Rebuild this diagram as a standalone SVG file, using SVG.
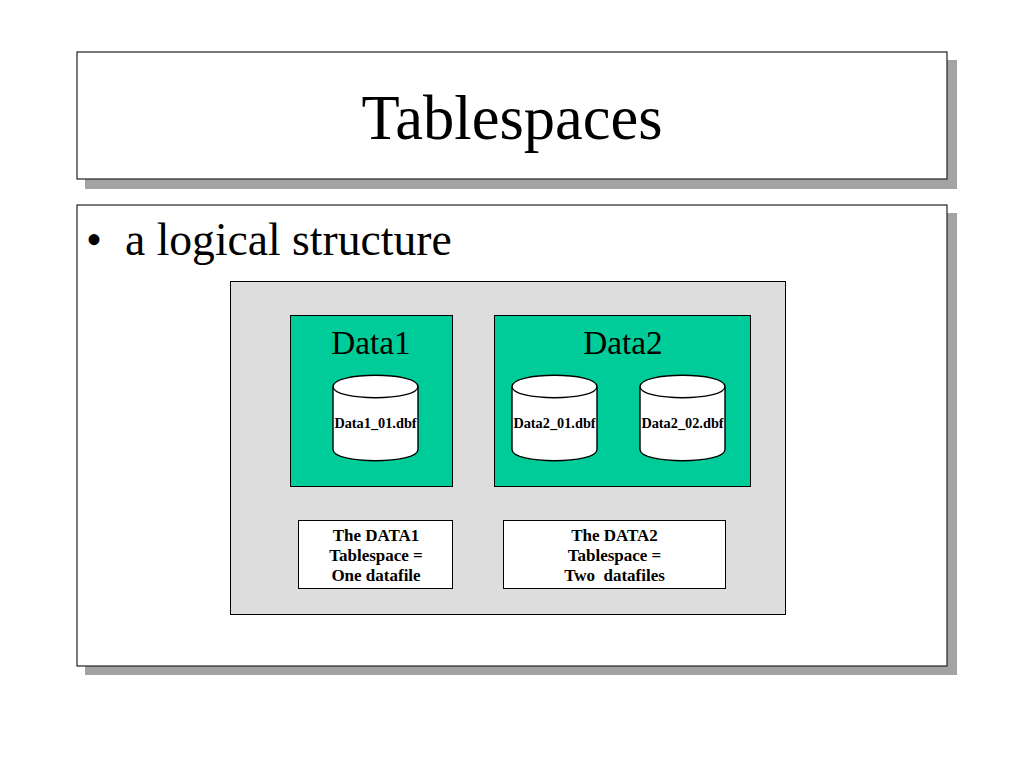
<svg xmlns="http://www.w3.org/2000/svg" width="1024" height="768" viewBox="0 0 1024 768">
<defs><style>
.t{font-family:"Liberation Serif","Times New Roman",serif;fill:#000}
.b{font-weight:bold;text-anchor:middle}
.f{font-size:14.300px}
.m{font-size:17px}
.s{font-size:33.300px;text-anchor:middle}
.c{fill:#fff;stroke:#000;stroke-width:1}
.n{stroke:#000;stroke-width:1}
.p{fill:#fff;stroke:#222;stroke-width:1.200}
.h{fill:#a3a3a3}
</style>
<g id="cyl"><path fill="#fff" stroke="#000" stroke-width="1.400" d="M0 11C0 -4 85 -4 85 11V74C85 89 0 89 0 74Z"/><path fill="none" stroke="#000" stroke-width="1.400" d="M0 11C0 26 85 26 85 11"/></g>
</defs>
<rect width="1024" height="768" fill="#fff"/>
<g id="title"><rect class="h" x="85" y="60" width="872" height="129"/><rect class="p" x="77" y="52" width="870" height="127"/><text class="t" x="512" y="139" font-size="62.500" text-anchor="middle">Tablespaces</text></g>
<g id="body"><rect class="h" x="85" y="213" width="872" height="462"/><rect class="p" x="77" y="205" width="870" height="461"/><text class="t" x="86" y="255" font-size="45.600">•</text><text class="t" x="125" y="255" font-size="45.600">a logical structure</text></g>
<g id="panel"><rect x="230.500" y="281.500" width="555" height="333" fill="#ddd" class="n"/></g>
<g id="data1"><rect x="290.500" y="315.500" width="162" height="171" fill="#00cc99" class="n"/><text class="t s" x="371" y="354">Data1</text></g>
<g id="data2"><rect x="494.500" y="315.500" width="256" height="171" fill="#00cc99" class="n"/><text class="t s" x="623" y="354">Data2</text></g>
<g id="file1"><use href="#cyl" x="333" y="375.500"/><text class="t b f" x="375.500" y="428">Data1_01.dbf</text></g>
<g id="file2"><use href="#cyl" x="512" y="375.500"/><text class="t b f" x="554.500" y="428">Data2_01.dbf</text></g>
<g id="file3"><use href="#cyl" x="640" y="375.500"/><text class="t b f" x="682.500" y="428">Data2_02.dbf</text></g>
<g id="note1"><rect x="298.500" y="520.500" width="154" height="68" class="c"/><text class="t b m" x="376" y="541">The DATA1</text><text class="t b m" x="376" y="561">Tablespace =</text><text class="t b m" x="376" y="581">One datafile</text></g>
<g id="note2"><rect x="503.500" y="520.500" width="222" height="68" class="c"/><text class="t b m" x="614.500" y="541">The DATA2</text><text class="t b m" x="614.500" y="561">Tablespace =</text><text class="t b m" x="614.500" y="581" xml:space="preserve">Two  datafiles</text></g>
<g id="connectors"/>
</svg>
